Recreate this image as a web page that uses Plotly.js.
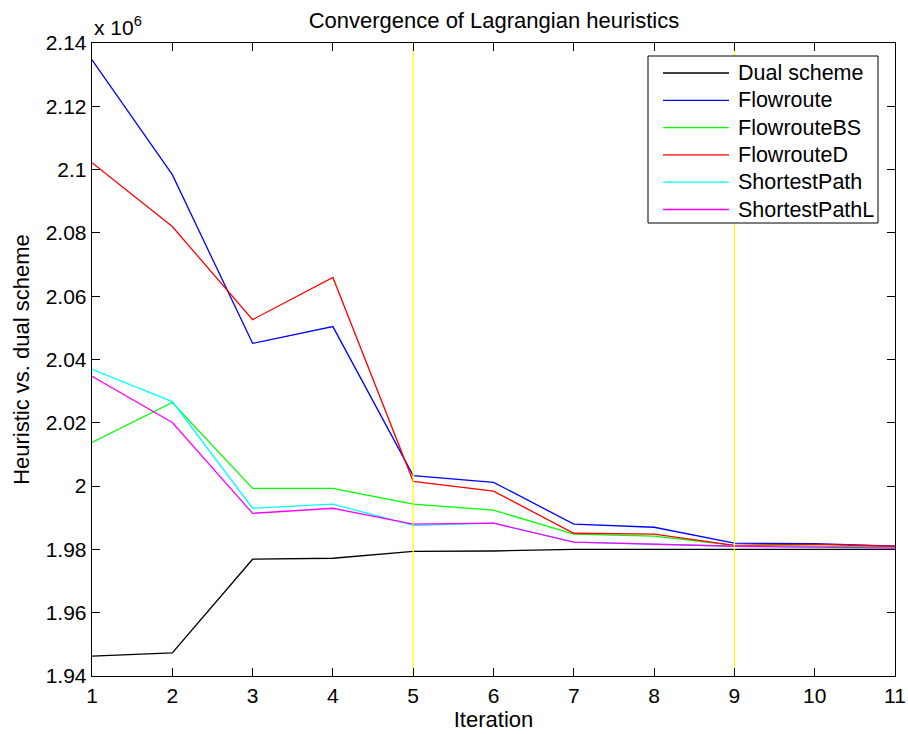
<!DOCTYPE html>
<html>
<head>
<meta charset="utf-8">
<script src="https://cdn.plot.ly/plotly-3.0.1.min.js"></script>
<style>html,body{margin:0;padding:0;background:#fff;}#chart{width:908px;height:734px;}</style>
</head>
<body>
<div id="chart"></div>
<script>
var iterations = [1, 2, 3, 4, 5, 6, 7, 8, 9, 10, 11];
var dualScheme    = [1946300, 1947300, 1976900, 1977200, 1979400, 1979500, 1980000, 1980000, 1980000, 1980000, 1980000];
var flowroute     = [2134700, 2098400, 2045100, 2050400, 2003300, 2001200, 1988000, 1987000, 1982000, 1981800, 1981000];
var flowrouteBS   = [2013800, 2026400, 1999300, 1999300, 1994300, 1992400, 1984800, 1984200, 1981300, 1981000, 1980700];
var flowrouteD    = [2102200, 2082000, 2052600, 2065900, 2001500, 1998400, 1985100, 1984800, 1981300, 1981600, 1981000];
var shortestPath  = [2036900, 2026700, 1993000, 1994300, 1987600, 1988300, 1982300, 1981600, 1981000, 1980700, 1980400];
var shortestPathL = [2034700, 2020100, 1991400, 1993000, 1988000, 1988300, 1982300, 1981600, 1981000, 1980700, 1980400];
var markerIterations = [5, 9];
var yTickVals = [1940000, 1960000, 1980000, 2000000, 2020000, 2040000, 2060000, 2080000, 2100000, 2120000, 2140000];
var yTickText = ["1.94", "1.96", "1.98", "2", "2.02", "2.04", "2.06", "2.08", "2.1", "2.12", "2.14"];

var seriesNames = ["Dual scheme", "Flowroute", "FlowrouteBS", "FlowrouteD", "ShortestPath", "ShortestPathL"];
var seriesData = [dualScheme, flowroute, flowrouteBS, flowrouteD, shortestPath, shortestPathL];
var seriesColors = ["#000000", "#0000ff", "#00ff00", "#ff0000", "#00ffff", "#ff00ff"];

var W = 908, H = 734;
var M = {l: 92, r: 13, t: 43, b: 58};
var plotW = W - M.l - M.r, plotH = H - M.t - M.b;
function px2x(px) { return (px - M.l) / plotW; }
function py2y(py) { return (H - M.b - py) / plotH; }

var traces = [];
for (var i = 0; i < seriesNames.length; i++) {
  traces.push({x: iterations, y: seriesData[i], name: seriesNames[i], mode: "lines", line: {color: seriesColors[i], width: 1.3}, showlegend: false});
}
markerIterations.forEach(function (m) {
  traces.push({x: [m, m], y: [yTickVals[0], yTickVals[yTickVals.length - 1]], mode: "lines", line: {color: "#ffff00", width: 1.2}, showlegend: false, hoverinfo: "skip"});
});

var fam = "Liberation Sans, Arial, Helvetica, sans-serif";
var tickFont = {family: fam, size: 21, color: "#000"};
var labelFont = {family: fam, size: 22, color: "#000"};

// legend box (drawn manually to match row spacing)
var legBox = {x0: 648, x1: 878, y0: 56, y1: 223};
var legRow0 = 73, legRowStep = 27.3, legLineX0 = 663, legLineX1 = 729, legTextX = 736;
var shapes = [{type: "rect", xref: "paper", yref: "paper", x0: px2x(legBox.x0), x1: px2x(legBox.x1), y0: py2y(legBox.y1), y1: py2y(legBox.y0), line: {color: "#000", width: 1}, fillcolor: "#fff", layer: "above"}];
var annotations = [{
  xref: "paper", yref: "paper", x: 0, y: 1, xanchor: "left", yanchor: "bottom", yshift: 2,
  text: "x 10<sup>6</sup>", showarrow: false, font: {family: fam, size: 21, color: "#000"}
}];
for (var k = 0; k < seriesNames.length; k++) {
  var ry = py2y(legRow0 + k * legRowStep);
  shapes.push({type: "line", xref: "paper", yref: "paper", x0: px2x(legLineX0), x1: px2x(legLineX1), y0: ry, y1: ry, line: {color: seriesColors[k], width: 1.3}, layer: "above"});
  annotations.push({xref: "paper", yref: "paper", x: px2x(legTextX), y: ry, xanchor: "left", yanchor: "middle", text: seriesNames[k], showarrow: false, font: {family: fam, size: 21.5, color: "#000"}});
}

var layout = {
  width: W, height: H,
  margin: M,
  paper_bgcolor: "#fff", plot_bgcolor: "#fff",
  font: labelFont,
  showlegend: false,
  title: {text: "Convergence of Lagrangian heuristics", font: labelFont, x: 0.544, xanchor: "center", y: 0.972, yanchor: "middle"},
  xaxis: {
    range: [1, 11], tickvals: iterations, ticks: "inside", ticklen: 8, tickcolor: "#000",
    showgrid: false, zeroline: false, showline: true, linecolor: "#000", linewidth: 1.3, mirror: "ticks",
    tickfont: tickFont, title: {text: "Iteration", font: labelFont, standoff: 2}
  },
  yaxis: {
    range: [1940000, 2140000], tickvals: yTickVals, ticktext: yTickText, ticks: "inside", ticklen: 8, tickcolor: "#000",
    showgrid: false, zeroline: false, showline: true, linecolor: "#000", linewidth: 1.3, mirror: "ticks",
    tickfont: tickFont, title: {text: "Heuristic vs. dual scheme", font: labelFont, standoff: 10}
  },
  shapes: shapes,
  annotations: annotations
};
Plotly.newPlot("chart", traces, layout, {displayModeBar: false, staticPlot: true});
</script>
</body>
</html>
